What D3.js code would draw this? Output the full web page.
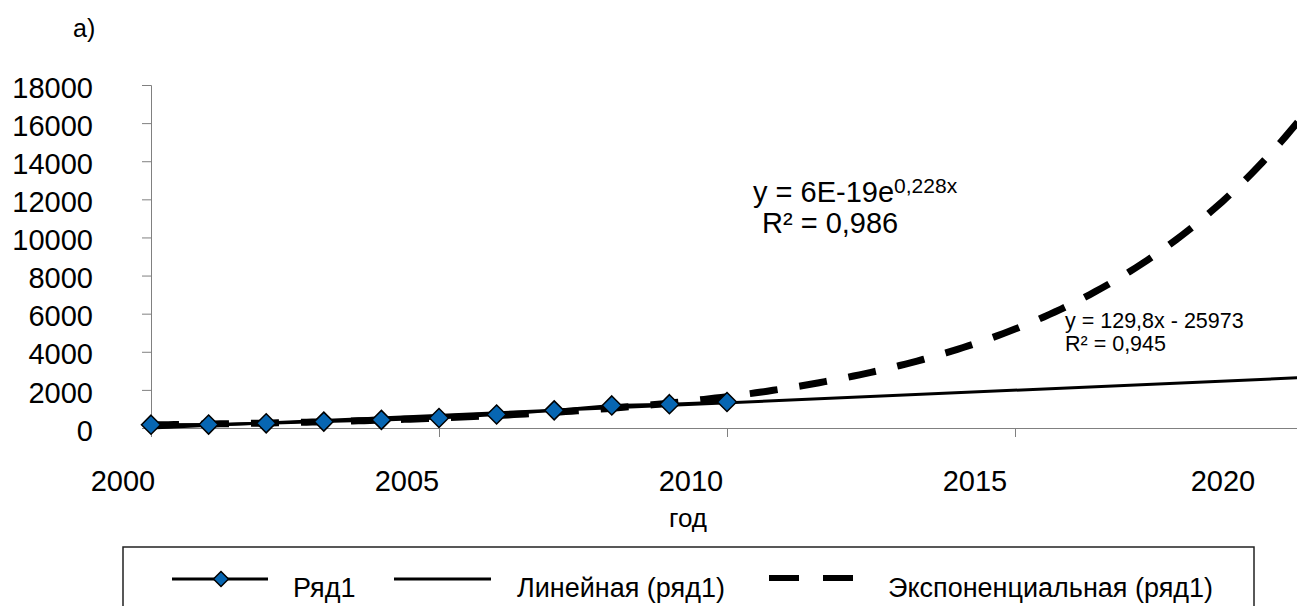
<!DOCTYPE html>
<html>
<head>
<meta charset="utf-8">
<script src="https://cdn.jsdelivr.net/npm/d3@7"></script>
<style>
  html, body { margin: 0; padding: 0; background: #fff; }
  svg { display: block; font-family: "Liberation Sans", Arial, sans-serif; }
</style>
</head>
<body>
<svg id="chart" width="1297" height="606"></svg>
<script>
// ---- data ----
const years  = [2000, 2001, 2002, 2003, 2004, 2005, 2006, 2007, 2008, 2009, 2010];
const values = [175, 180, 245, 335, 425, 525, 710, 925, 1185, 1250, 1365];
const yTicks = [0, 2000, 4000, 6000, 8000, 10000, 12000, 14000, 16000, 18000];
const xTicks = [2000, 2005, 2010, 2015, 2020];
const trendEnd = 2020;
const legendLabels = ["Ряд1", "Линейная (ряд1)", "Экспоненциальная (ряд1)"];
const eqExp = { main: "y = 6E-19e", sup: "0,228x", r2: "R² = 0,986" };
const eqLin = { main: "y = 129,8x - 25973", r2: "R² = 0,945" };

// ---- layout ----
const svg = d3.select("#chart");
const x = d3.scaleLinear().domain([2000, 2020]).range([151, 1303]);
const y = d3.scaleLinear().domain([0, 18000]).range([428, 85]);
const axisColor = "#808080";

// "a)" label
svg.append("text").attr("x", 73).attr("y", 37).attr("font-size", 25).text("a)");

// y axis
const yAxis = svg.append("g").attr("transform", `translate(${x(2000)},0)`)
  .call(d3.axisLeft(y).tickValues(yTicks).tickSize(9).tickPadding(49).tickFormat(d3.format("d")));
yAxis.select(".domain").attr("stroke", axisColor);
yAxis.selectAll(".tick line").attr("stroke", axisColor);
yAxis.selectAll(".tick text").attr("font-size", 29).attr("fill", "#000")
  .attr("font-family", "Liberation Sans, Arial, sans-serif").attr("dy", "0.42em");

// x axis (line + ticks)
const xAxis = svg.append("g").attr("transform", `translate(0,${y(0)})`)
  .call(d3.axisBottom(x).tickValues(xTicks).tickSize(9).tickSizeOuter(0).tickFormat(""));
xAxis.select(".domain").attr("stroke", axisColor);
xAxis.selectAll(".tick line").attr("stroke", axisColor);

// x tick labels (placed as in the reference, last one kept inside the frame)
const labelX = d3.scaleLinear().domain([2000, 2015]).range([123, 975]);
svg.append("g").selectAll("text").data(xTicks).join("text")
  .attr("x", d => Math.min(labelX(d), 1257 - 34))
  .attr("y", 491)
  .attr("text-anchor", "middle")
  .attr("font-size", 29)
  .text(d => d);

// x axis title
svg.append("text").attr("x", 688).attr("y", 527).attr("text-anchor", "middle")
  .attr("font-size", 26).text("год");

// ---- trend fits (least squares on the data) ----
const xs = years.map(d => d - 2000);
const mx = d3.mean(xs);
const my = d3.mean(values);
const sxx = d3.sum(xs, d => (d - mx) ** 2);
const slope = d3.sum(xs, (d, i) => (d - mx) * (values[i] - my)) / sxx;
const intercept = my - slope * mx;
const lnv = values.map(Math.log);
const mly = d3.mean(lnv);
const b = d3.sum(xs, (d, i) => (d - mx) * (lnv[i] - mly)) / sxx;
const a = Math.exp(mly - b * mx);

const samples = d3.range(2000, trendEnd + 0.001, 0.1);
const lineGen = d3.line().x(d => x(d[0])).y(d => y(d[1]));

// exponential trend (dashed)
svg.append("path")
  .attr("d", lineGen(samples.map(t => [t, a * Math.exp(b * (t - 2000))])))
  .attr("fill", "none").attr("stroke", "#000").attr("stroke-width", 7)
  .attr("stroke-dasharray", "28,22");

// linear trend
svg.append("path")
  .attr("d", lineGen([2000, trendEnd].map(t => [t, intercept + slope * (t - 2000)])))
  .attr("fill", "none").attr("stroke", "#000").attr("stroke-width", 3);

// data series line
svg.append("path")
  .attr("d", lineGen(years.map((t, i) => [t, values[i]])))
  .attr("fill", "none").attr("stroke", "#000").attr("stroke-width", 3);

// markers
const diamond = r => `M0,${-r}L${r},0L0,${r}L${-r},0Z`;
svg.append("g").selectAll("path").data(years).join("path")
  .attr("transform", (d, i) => `translate(${x(d)},${y(values[i])})`)
  .attr("d", diamond(9.5))
  .attr("fill", "#0766b2").attr("stroke", "#000").attr("stroke-width", 1.5);

// equations
const e1 = svg.append("text").attr("x", 753).attr("y", 202).attr("font-size", 29);
e1.append("tspan").text(eqExp.main);
e1.append("tspan").attr("font-size", 21).attr("dy", -9).text(eqExp.sup);
svg.append("text").attr("x", 762).attr("y", 233).attr("font-size", 29).text(eqExp.r2);

svg.append("text").attr("x", 1065).attr("y", 328).attr("font-size", 21.5).text(eqLin.main);
svg.append("text").attr("x", 1065).attr("y", 351).attr("font-size", 21.5).text(eqLin.r2);

// ---- legend ----
const lg = svg.append("g");
lg.append("rect").attr("x", 123).attr("y", 547).attr("width", 1131).attr("height", 100)
  .attr("fill", "none").attr("stroke", "#222").attr("stroke-width", 1.5);
const ly = 579;
lg.append("line").attr("x1", 172).attr("x2", 268).attr("y1", ly).attr("y2", ly)
  .attr("stroke", "#000").attr("stroke-width", 3);
lg.append("path").attr("transform", `translate(221,${ly})`).attr("d", diamond(7.5))
  .attr("fill", "#0766b2").attr("stroke", "#000").attr("stroke-width", 1.5);
lg.append("line").attr("x1", 394).attr("x2", 491).attr("y1", ly).attr("y2", ly)
  .attr("stroke", "#000").attr("stroke-width", 3);
lg.append("line").attr("x1", 769).attr("x2", 853).attr("y1", ly - 1).attr("y2", ly - 1)
  .attr("stroke", "#000").attr("stroke-width", 6).attr("stroke-dasharray", "30,24");
const legendX = [293, 517, 888];
lg.selectAll("text.lt").data(legendLabels).join("text").attr("class", "lt")
  .attr("x", (d, i) => legendX[i]).attr("y", 597).attr("font-size", 27).text(d => d);
</script>
</body>
</html>
